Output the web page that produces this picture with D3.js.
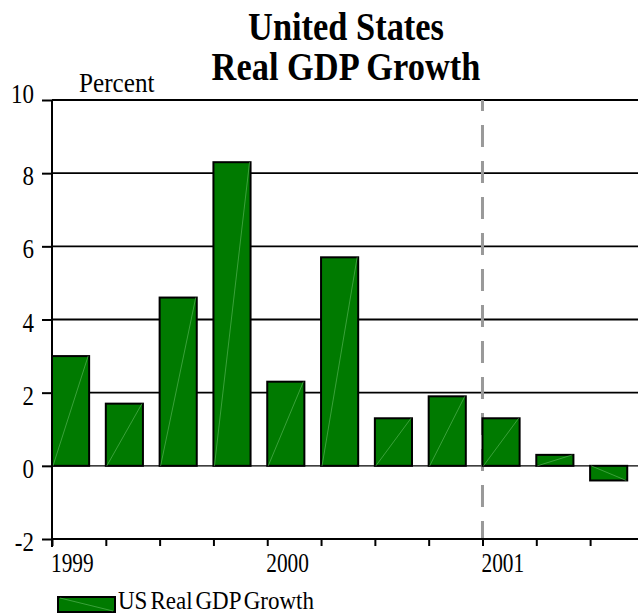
<!DOCTYPE html>
<html>
<head>
<meta charset="utf-8">
<script src="https://cdn.jsdelivr.net/npm/d3@7"></script>
<style>
  html, body { margin: 0; padding: 0; background: #fff; }
  svg { display: block; }
  text { font-family: "Liberation Serif", "Times New Roman", serif; fill: #000; }
</style>
</head>
<body>
<svg id="chart" width="638" height="614"></svg>
<script>
// Quarterly real GDP growth, annualized percent
const quarters = ["1999Q1", "1999Q2", "1999Q3", "1999Q4",
                  "2000Q1", "2000Q2", "2000Q3", "2000Q4",
                  "2001Q1", "2001Q2", "2001Q3"];
const growth = [3.0, 1.7, 4.6, 8.3, 2.3, 5.7, 1.3, 1.9, 1.3, 0.3, -0.4];

// Year labels placed at the first quarter of each year (quarter index)
const yearLabels = ["1999", "2000", "2001"];
const yearIndex = [0, 4, 8];

const yTicks = [-2, 0, 2, 4, 6, 8, 10];
const markerIndex = 8; // start of 2001

const titleLines = ["United States", "Real GDP Growth"];
const unitLabel = "Percent";
const seriesName = "US Real GDP Growth";

const svg = d3.select("#chart");

const plotLeft = 52, plotRight = 638, plotTop = 100, plotBottom = 539;
const x = d3.scaleLinear().domain([0, 10.89]).range([plotLeft, plotRight]);
const y = d3.scaleLinear().domain([-2, 10]).range([plotBottom, plotTop]);
const step = x(1) - x(0);
const barW = step * 0.69;

const green = "#007a00";
const sheen = "#5cb85c";

// Horizontal gridlines
svg.append("g")
  .selectAll("line")
  .data(yTicks.filter(t => t !== -2))
  .join("line")
  .attr("x1", plotLeft).attr("x2", plotRight)
  .attr("y1", d => y(d)).attr("y2", d => y(d))
  .attr("stroke", "#000")
  .attr("stroke-width", d => d === 0 ? 1.4 : 1.8);

// Dashed marker at the start of 2001
svg.append("line")
  .attr("x1", x(markerIndex)).attr("x2", x(markerIndex))
  .attr("y1", plotTop).attr("y2", plotBottom)
  .attr("stroke", "#999")
  .attr("stroke-width", 3)
  .attr("stroke-dasharray", "22,14")
  .attr("stroke-dashoffset", 11);

// Bars
const bars = svg.append("g");
const data = quarters.map((q, i) => ({ q, i, v: growth[i] }));
bars.selectAll("rect")
  .data(data)
  .join("rect")
  .attr("x", d => x(d.i))
  .attr("width", barW)
  .attr("y", d => Math.min(y(d.v), y(0)))
  .attr("height", d => Math.abs(y(d.v) - y(0)))
  .attr("fill", green)
  .attr("stroke", "#000")
  .attr("stroke-width", 2);

// Light diagonal sheen across each bar
bars.selectAll("line")
  .data(data)
  .join("line")
  .attr("x1", d => x(d.i) + 1).attr("y1", y(0))
  .attr("x2", d => x(d.i) + barW - 1).attr("y2", d => y(d.v))
  .attr("stroke", sheen)
  .attr("stroke-width", 0.8)
  .attr("opacity", 0.8);

// Axes
const yAxis = svg.append("g").attr("transform", `translate(${plotLeft},0)`)
  .call(d3.axisLeft(y).tickValues(yTicks).tickSize(10).tickFormat(""));
yAxis.select(".domain").attr("stroke-width", 2).attr("d", `M0,${plotTop}V${plotBottom + 8}`);
yAxis.selectAll(".tick line").attr("stroke-width", 2);

const xAxis = svg.append("g").attr("transform", `translate(0,${plotBottom})`)
  .call(d3.axisBottom(x).tickValues(d3.range(0, 11)).tickSize(7).tickFormat(""));
xAxis.select(".domain").attr("stroke-width", 2).attr("d", `M${plotLeft},0H${plotRight}`);
xAxis.selectAll(".tick line").attr("stroke-width", 2);

// Y tick labels
svg.append("g")
  .selectAll("text")
  .data(yTicks)
  .join("text")
  .attr("transform", d => `translate(34,${y(d) + (d === 10 ? 3 : 12)}) scale(0.82,1)`)
  .attr("text-anchor", "end")
  .attr("font-size", 28)
  .text(d => d);

// Year labels
svg.append("g")
  .selectAll("text")
  .data(yearLabels)
  .join("text")
  .attr("transform", (d, i) => `translate(${x(yearIndex[i]) - 1},${plotBottom + 33}) scale(0.79,1)`)
  .attr("font-size", 27)
  .text(d => d);

// Title
svg.append("g")
  .selectAll("text")
  .data(titleLines)
  .join("text")
  .attr("transform", (d, i) => `translate(346,${40 + i * 40}) scale(0.86,1)`)
  .attr("text-anchor", "middle")
  .attr("font-size", 40)
  .attr("font-weight", "bold")
  .text(d => d);

// Unit label
svg.append("text")
  .attr("transform", "translate(79,92) scale(0.9,1)")
  .attr("font-size", 28)
  .text(unitLabel);

// Legend
const lg = svg.append("g");
lg.append("rect")
  .attr("x", 58).attr("y", 597).attr("width", 57).attr("height", 15)
  .attr("fill", green).attr("stroke", "#000").attr("stroke-width", 2);
lg.append("line")
  .attr("x1", 60).attr("y1", 598).attr("x2", 113).attr("y2", 611)
  .attr("stroke", sheen).attr("stroke-width", 0.8).attr("opacity", 0.8);
lg.append("text")
  .attr("transform", "translate(118,609) scale(0.92,1)")
  .attr("font-size", 25)
  .attr("word-spacing", -3)
  .text(seriesName);
</script>
</body>
</html>
